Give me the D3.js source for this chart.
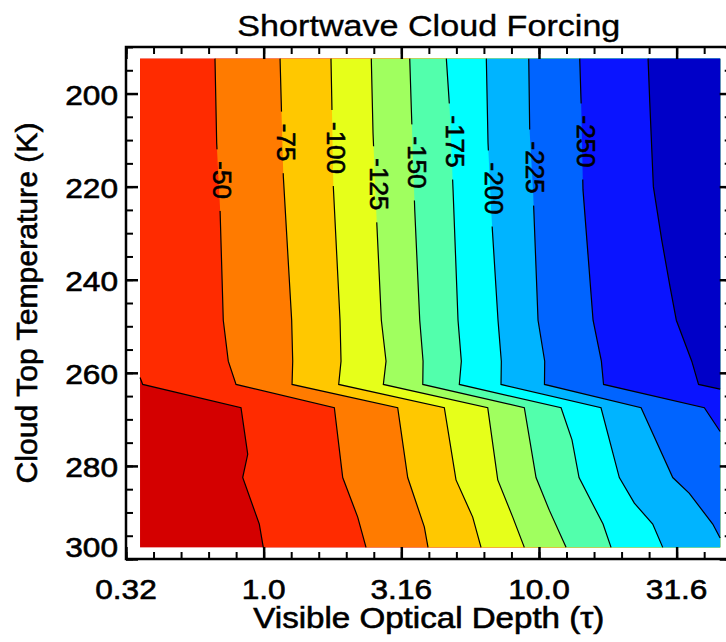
<!DOCTYPE html>
<html>
<head>
<meta charset="utf-8">
<script src="https://cdn.jsdelivr.net/npm/d3@7"></script>
<style>
  body { margin: 0; background: #fff; }
  svg { display: block; font-family: "Liberation Sans", Arial, Helvetica, sans-serif; }
  text { fill: #000; stroke: #000; stroke-width: 0.6px; }
  text.title { stroke-width: 0.35px; }
</style>
</head>
<body>
<svg id="chart" width="726" height="642"></svg>
<script>
// Contour levels (W/m2) and the fill colour of each band, warmest first
const levels = [-25, -50, -75, -100, -125, -150, -175, -200, -225, -250, -275];
const bandColors = ["#d40000", "#ff2b00", "#ff7b00", "#ffc800", "#e6ff1a", "#a0ff5f",
                    "#52ffac", "#00ffff", "#00b4ff", "#0064ff", "#0a14ff", "#0000c8"];

// Extent of the gridded data (tau, cloud top temperature K)
const tauRange = [0.3556, 45.5];
const tempRange = [192.5, 297.5];

// Contour lines: [tau, T]
const contour25 = [[0.3556, 261.0], [0.3637, 262.5], [0.8274, 267.5], [0.8752, 277.5],
                   [0.8392, 282.5], [0.9643, 292.5], [0.997, 297.5]];
const contour50 = [[0.6656, 192.5], [0.6751, 210.6], [0.694, 224.4], [0.7134, 248.7],
                   [0.7439, 257.5], [0.7937, 262.5], [1.806, 267.5], [1.937, 282.5],
                   [2.196, 291.0], [2.354, 297.5]];
const contour75 = [[1.147, 192.5], [1.163, 205.7], [1.179, 217.9], [1.264, 248.7],
                   [1.275, 257.5], [1.268, 262.5], [3.068, 267.5], [3.336, 282.5],
                   [3.833, 293.1], [3.954, 297.5]];
const contour100 = [[1.756, 192.5], [1.767, 200.7], [1.791, 220.1], [1.894, 248.7],
                    [1.91, 257.5], [1.873, 262.5], [4.531, 267.5], [4.996, 283.0],
                    [5.745, 291.0], [6.159, 297.5]];
const contour125 = [[2.46, 192.5], [2.496, 208.5], [2.566, 225.7], [2.676, 248.7],
                    [2.783, 257.5], [2.721, 262.5], [6.514, 267.5], [7.084, 283.0],
                    [8.03, 291.0], [8.846, 297.5]];
const contour150 = [[3.393, 192.5], [3.439, 203.5], [3.538, 225.0], [3.689, 248.7],
                    [3.793, 257.5], [3.784, 262.5], [8.846, 267.5], [9.757, 282.5],
                    [10.9, 289.5], [12.54, 297.5]];
const contour175 = [[4.608, 192.5], [4.741, 203.5], [4.874, 220.7], [5.081, 248.7],
                    [5.224, 257.5], [5.136, 262.5], [12.03, 267.5], [13.18, 274.4],
                    [13.98, 282.5], [17.09, 292.5], [18.27, 297.5]];
const contour200 = [[6.438, 192.5], [6.53, 210.6], [6.713, 225.7], [7.099, 248.7],
                    [7.298, 257.5], [7.279, 262.5], [16.8, 267.5], [19.58, 282.5],
                    [22.2, 288.0], [25.89, 292.5], [28.15, 297.5]];
const contour225 = [[9.179, 192.5], [9.256, 208.5], [9.515, 220.7], [9.921, 248.7],
                    [10.49, 257.5], [10.47, 262.5], [23.49, 267.5], [30.61, 282.5],
                    [35.17, 285.9], [42.77, 292.5], [45.5, 295.5]];
const contour250 = [[14.06, 192.5], [14.25, 203.5], [14.45, 220.7], [15.72, 248.7],
                    [16.85, 257.5], [17.16, 262.5], [39.87, 267.5], [45.5, 272.6]];
const contour275 = [[24.9, 192.5], [25.26, 201.9], [26.03, 220.0], [27.92, 231.5],
                    [29.92, 241.5], [31.54, 248.7], [35.89, 257.5], [37.98, 262.5],
                    [45.5, 263.5]];
const contours = [contour25, contour50, contour75, contour100, contour125, contour150,
                  contour175, contour200, contour225, contour250, contour275];

// Temperature at which each contour carries its label (null = unlabelled)
const labelTemps = [null, 218.6, 210.5, 211.7, 219.5, 214.8, 210.3, 220.4, 215.9, 210.3, null];

// Axis ticks
const xTickValues = [0.3162, 1, 3.162, 10, 31.62];
const xTickLabels = ["0.32", "1.0", "3.16", "10.0", "31.6"];
const yTickValues = [200, 220, 240, 260, 280, 300];
const yTickLabels = ["200", "220", "240", "260", "280", "300"];

const svg = d3.select("#chart");
const plotLeft = 126, plotRight = 731.7, plotTop = 47, plotBottom = 559;
const stretch = 1.13;

const x = d3.scaleLog().domain([Math.pow(10, -0.5), Math.pow(10, 1.7)]).range([plotLeft, plotRight]);
const y = d3.scaleLinear().domain([190, 300]).range([plotTop, plotBottom]);

const line = d3.line().x(d => x(d[0])).y(d => y(d[1]));

// Filled bands: paint base colour, then the colder side of each contour on top
const fills = svg.append("g");
fills.append("rect")
    .attr("x", x(tauRange[0]))
    .attr("y", y(tempRange[0]))
    .attr("width", x(tauRange[1]) - x(tauRange[0]))
    .attr("height", y(tempRange[1]) - y(tempRange[0]))
    .attr("fill", bandColors[0]);

contours.forEach((pts, i) => {
    const ring = pts.slice();
    const first = pts[0], last = pts[pts.length - 1];
    if (last[1] >= tempRange[1] - 0.01) ring.push([tauRange[1], tempRange[1]]);
    ring.push([tauRange[1], tempRange[0]]);
    if (first[0] <= tauRange[0] + 0.001) ring.push([tauRange[0], tempRange[0]]);
    fills.append("path")
        .attr("d", line(ring) + "Z")
        .attr("fill", bandColors[i + 1]);
});

// x position (px) of a contour at a given temperature
function xAt(pts, t) {
    for (let i = 0; i < pts.length - 1; i++) {
        const a = pts[i], b = pts[i + 1];
        if ((t - a[1]) * (t - b[1]) <= 0) {
            const f = (t - a[1]) / (b[1] - a[1]);
            return x(a[0]) + (x(b[0]) - x(a[0])) * f;
        }
    }
    return x(pts[0][0]);
}

// Contour lines go in their own group, labels above them
const lineG = svg.append("g");
const labelG = svg.append("g");
const gaps = [];
contours.forEach((pts, i) => {
    const t = labelTemps[i];
    if (t === null) return;
    const lx = xAt(pts, t), ly = y(t);
    const txt = labelG.append("text")
        .attr("transform", `translate(${lx + 4},${ly}) rotate(90)`)
        .attr("text-anchor", "middle")
        .attr("dy", "0.36em")
        .attr("font-size", 26)
        .text(levels[i]);
    const len = txt.node().getComputedTextLength();
    gaps.push({ x: lx - 12, y: ly - len / 2 - 12, w: 24, h: len + 24 });
});

// Mask so contour lines break under the labels
const mask = svg.append("defs").append("mask")
    .attr("id", "gapMask")
    .attr("maskUnits", "userSpaceOnUse")
    .attr("x", 0).attr("y", 0).attr("width", 726).attr("height", 642);
mask.append("rect").attr("width", 726).attr("height", 642).attr("fill", "#fff");
mask.selectAll("rect.gap").data(gaps).join("rect")
    .attr("class", "gap")
    .attr("x", d => d.x).attr("y", d => d.y)
    .attr("width", d => d.w).attr("height", d => d.h)
    .attr("fill", "#000");

lineG.attr("mask", "url(#gapMask)")
    .selectAll("path")
    .data(contours)
    .join("path")
    .attr("d", d => line(d))
    .attr("fill", "none")
    .attr("stroke", "#000")
    .attr("stroke-width", 1.2);

// Axes: inward ticks, major and minor
const xMinor = d3.range(-5, 18).map(k => Math.pow(10, k / 10));
const yMinor = d3.range(190, 301, 5);

function ticks(axis, transform, size, width) {
    const g = svg.append("g")
        .attr("transform", transform)
        .call(axis.tickSize(size).tickFormat(""));
    g.select(".domain").remove();
    g.selectAll(".tick line").attr("stroke", "#000").attr("stroke-width", width);
}

ticks(d3.axisBottom(x).tickValues(xMinor), `translate(0,${plotBottom})`, -7, 2);
ticks(d3.axisBottom(x).tickValues(xTickValues), `translate(0,${plotBottom})`, -12, 2.5);
ticks(d3.axisTop(x).tickValues(xMinor), `translate(0,${plotTop})`, -7, 2);
ticks(d3.axisTop(x).tickValues(xTickValues), `translate(0,${plotTop})`, -12, 2.5);
ticks(d3.axisLeft(y).tickValues(yMinor), `translate(${plotLeft},0)`, -7, 2);
ticks(d3.axisLeft(y).tickValues(yTickValues), `translate(${plotLeft},0)`, -12, 2.5);
ticks(d3.axisRight(y).tickValues(yMinor), `translate(${plotRight},0)`, -7, 2);
ticks(d3.axisRight(y).tickValues(yTickValues), `translate(${plotRight},0)`, -12, 2.5);

svg.append("rect")
    .attr("x", plotLeft).attr("y", plotTop)
    .attr("width", plotRight - plotLeft).attr("height", plotBottom - plotTop)
    .attr("fill", "none")
    .attr("stroke", "#000")
    .attr("stroke-width", 2.5);

// Tick labels
svg.append("g").selectAll("text")
    .data(xTickValues)
    .join("text")
    .attr("transform", d => `translate(${x(d)},598.5) scale(${stretch},1)`)
    .attr("text-anchor", "middle")
    .attr("font-size", 28)
    .text((d, i) => xTickLabels[i]);

svg.append("g").selectAll("text")
    .data(yTickValues)
    .join("text")
    .attr("transform", d => `translate(118,${y(d) + (d === 300 ? -2 : 11.5)}) scale(${stretch},1)`)
    .attr("text-anchor", "end")
    .attr("font-size", 28)
    .text((d, i) => yTickLabels[i]);

// Titles
svg.append("text")
    .attr("class", "title")
    .attr("x", (plotLeft + plotRight) / 2)
    .attr("y", 35.5)
    .attr("text-anchor", "middle")
    .attr("font-size", 30)
    .attr("textLength", 383)
    .attr("lengthAdjust", "spacingAndGlyphs")
    .text("Shortwave Cloud Forcing");

svg.append("text")
    .attr("x", (plotLeft + plotRight) / 2)
    .attr("y", 628)
    .attr("text-anchor", "middle")
    .attr("font-size", 29)
    .attr("textLength", 351)
    .attr("lengthAdjust", "spacingAndGlyphs")
    .text("Visible Optical Depth (τ)");

svg.append("text")
    .attr("transform", `translate(37,${(plotTop + plotBottom) / 2}) rotate(-90)`)
    .attr("text-anchor", "middle")
    .attr("font-size", 29.5)
    .attr("textLength", 361)
    .attr("lengthAdjust", "spacingAndGlyphs")
    .text("Cloud Top Temperature (K)");
</script>
</body>
</html>
